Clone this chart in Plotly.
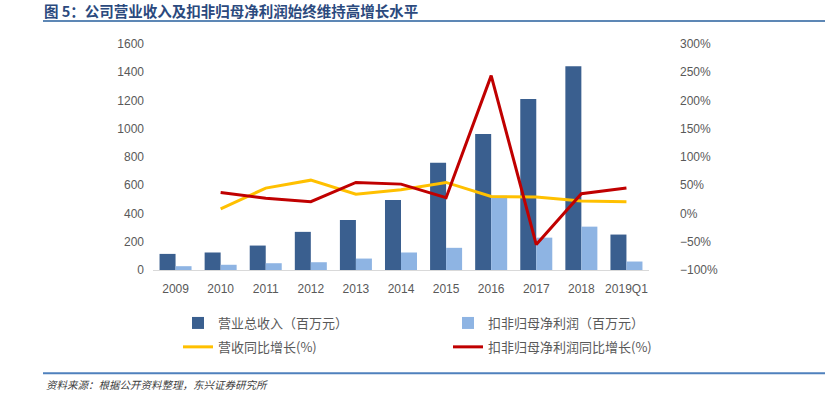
import plotly.graph_objects as go

categories = ["2009", "2010", "2011", "2012", "2013", "2014", "2015", "2016", "2017", "2018", "2019Q1"]
revenue = [114, 124, 173, 270, 354, 496, 759, 962, 1211, 1442, 251]
net_profit = [27, 37, 48, 55, 81, 124, 157, 526, 229, 307, 60]
revenue_growth = [None, 8, 45, 59, 34, 42, 55, 30, 29, 22, 21]
profit_growth = [None, 37, 27, 21, 55, 52, 28, 244, -55, 35, 45]

W_PAGE, H_PAGE = 825, 393
L, R = 153, 649
T, B = 44, 270.5
PW, PH = R - L, B - T

def px(xp):
    return (xp - L) / PW

def py(yp):
    return (B - yp) / PH

CJK = "Noto Sans CJK SC"
TICKFONT = dict(family="Liberation Sans, Arial", size=12, color="#595959")
LEGFONT = dict(family=CJK, size=13, color="#595959")

fig = go.Figure()
fig.add_trace(go.Bar(x=categories, y=revenue, name="营业总收入（百万元）", legend="legend", legendgroup="a",
                     marker=dict(color="#3A5F8F", line=dict(width=0))))
fig.add_trace(go.Bar(x=categories, y=net_profit, name="扣非归母净利润（百万元）", legend="legend2", legendgroup="b",
                     marker=dict(color="#8EB4E3", line=dict(width=0))))
fig.add_trace(go.Scatter(x=categories, y=revenue_growth, name="营收同比增长(%)", yaxis="y2",
                         legend="legend", legendgroup="c",
                         mode="lines", line=dict(color="#FFC000", width=3)))
fig.add_trace(go.Scatter(x=categories, y=profit_growth, name="扣非归母净利润同比增长(%)", yaxis="y2",
                         legend="legend2", legendgroup="d",
                         mode="lines", line=dict(color="#C00000", width=3)))

def leg(xpage):
    return dict(orientation="v", xref="container", yref="container",
                x=xpage / W_PAGE, y=1 - 308 / H_PAGE, xanchor="left", yanchor="top",
                traceorder="grouped", font=LEGFONT, bgcolor="rgba(0,0,0,0)",
                tracegroupgap=4, itemwidth=30)

fig.update_layout(
    width=W_PAGE, height=H_PAGE,
    margin=dict(l=L, r=W_PAGE - R, t=T, b=H_PAGE - B, pad=0, autoexpand=False),
    paper_bgcolor="white", plot_bgcolor="white",
    barmode="group", bargap=0.29, bargroupgap=0,
    showlegend=True,
    legend=leg(178),
    legend2=leg(448),
    xaxis=dict(type="category", showgrid=False, showline=True, linecolor="#D9D9D9", linewidth=1,
               ticks="", tickfont=TICKFONT, ticklabelstandoff=8, fixedrange=True),
    yaxis=dict(range=[0, 1600], dtick=200, showgrid=False, zeroline=False, showline=False,
               ticks="", tickfont=TICKFONT, ticklabelstandoff=8),
    yaxis2=dict(range=[-100, 300], dtick=50, overlaying="y", side="right", showgrid=False,
                zeroline=False, showline=False, ticks="", ticksuffix="%", tickfont=TICKFONT,
                ticklabelstandoff=30),
    font=dict(family=CJK),
)

fig.add_annotation(xref="paper", yref="paper", x=px(42), y=py(10), xanchor="left", yanchor="middle",
                   text="<b>图 5：公司营业收入及扣非归母净利润始终维持高增长水平</b>", showarrow=False,
                   font=dict(family=CJK, size=14.5, color="#2B4A7E"))
fig.add_annotation(xref="paper", yref="paper", x=px(44), y=py(385), xanchor="left", yanchor="middle",
                   text="<i>资料来源：根据公开资料整理，东兴证券研究所</i>", showarrow=False,
                   font=dict(family=CJK, size=10.5, color="#404040"))
fig.add_shape(type="line", xref="paper", yref="paper", x0=px(43), x1=px(825), y0=py(21), y1=py(21),
              line=dict(color="#5D87B5", width=2))
fig.add_shape(type="line", xref="paper", yref="paper", x0=px(43), x1=px(825), y0=py(374), y1=py(374),
              line=dict(color="#4F81BD", width=2))

fig.write_html("out.html", config={"displayModeBar": False},
               post_script="document.body.style.margin='0';document.body.style.overflow='hidden';")
